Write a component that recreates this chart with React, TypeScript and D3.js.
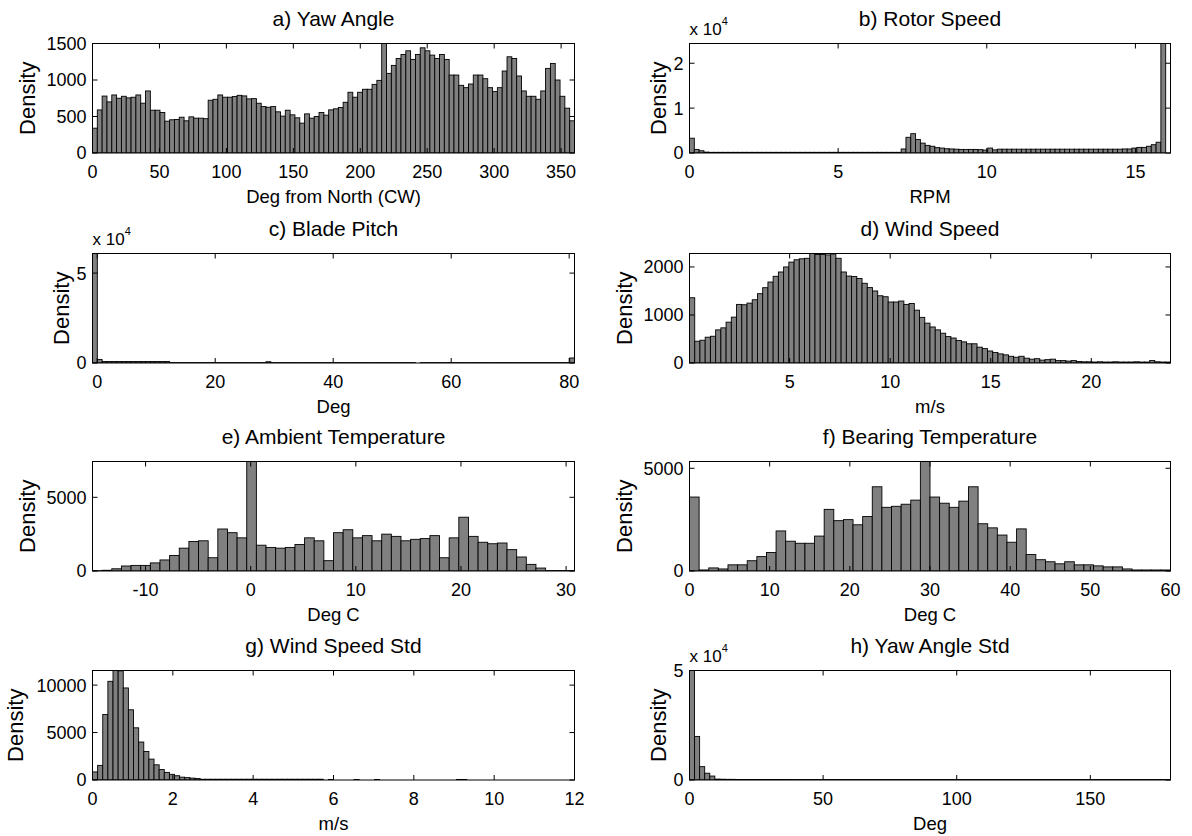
import React from 'react';
import * as d3 from 'd3';

// ---------- DATA (histogram counts) ----------
const panelTitles = ['a) Yaw Angle', 'b) Rotor Speed', 'c) Blade Pitch', 'd) Wind Speed',
  'e) Ambient Temperature', 'f) Bearing Temperature', 'g) Wind Speed Std', 'h) Yaw Angle Std'];
const panelXLabels = ['Deg from North (CW)', 'RPM', 'Deg', 'm/s', 'Deg C', 'Deg C', 'm/s', 'Deg'];

// a) Yaw angle: 100 bins over [0, 360]
const yawCounts = [
  340, 590, 780, 700, 795, 750, 777, 755, 764, 795, 682, 850,
  586, 586, 555, 436, 455, 459, 490, 441, 495, 477, 477, 470,
  723, 736, 795, 764, 764, 773, 790, 782, 741, 745, 682, 636, 627, 636, 564, 505, 586, 523, 482,
  409, 536, 477, 500, 555, 518, 591, 605, 623, 695, 832, 764, 832, 873, 873, 940, 995,
  1650, 1091, 1200, 1295, 1350, 1400, 1282, 1350, 1441, 1400, 1341, 1295, 1350, 1282, 1068, 1068,
  927, 895, 945, 1068, 1068, 1018, 895, 841, 895, 1123, 1318, 1295, 1055, 850, 777, 777, 736, 850,
  1159, 1227, 1000, 777, 614, 441,
];
// b) Rotor speed: 100 bins over [0, 16.18]
const rotorCounts = [
  3300, 800, 500,
  200, 150, 150, 150, 150, 150, 150, 150, 150, 150, 150, 150, 150, 150, 150, 150, 150, 150, 150, 150,
  150, 150, 150, 150, 150, 150, 150, 150, 150, 150, 150, 150, 150, 150, 150, 150, 150, 150, 150, 150, 150,
  900, 3500, 4300, 3000, 2200, 1700, 1500, 1200, 1100, 950, 900, 850, 800, 800, 800, 800, 750, 650, 1100, 700,
  850, 850, 850, 850, 850, 850, 850, 850, 850, 850, 850, 850, 850, 850, 850, 850, 850, 850, 850, 850,
  850, 850, 850, 850, 850, 850, 900, 900,
  1100, 1250, 1250, 1500, 1850, 2400, 26000, 0,
];
// c) Blade pitch: 100 bins over [-0.8, 80.9]
const pitchCounts = [
  65000, 1900,
  800, 800, 800, 800, 800, 800, 800, 800, 800, 800, 800, 800, 800, 800,
  200, 200, 200, 200, 200, 200, 200, 200, 200, 200, 200, 200, 200, 200, 200, 200, 200, 200, 200, 200,
  700, 200, 200, 200, 200, 200, 200, 200, 200, 200, 200, 200, 200, 200, 200, 200, 200, 200, 200, 200,
  200, 200, 200, 200, 200, 200, 200, 200, 200, 200, 200, 0, 200, 200, 200, 200, 200, 200, 200, 200,
  200, 200, 200, 200, 200, 200, 200, 200, 200, 200, 200, 200, 200, 200, 200, 200, 200, 200, 200, 200,
  200, 200, 200, 2800,
];
// d) Wind speed: 92 bins over [0.02, 23.94]
const windCounts = [
  1359, 453, 474, 537, 557, 690, 732, 850, 955, 1220, 1213, 1247, 1317, 1443, 1568,
  1686, 1805, 1895, 2000, 2100, 2150, 2170, 2180, 2280, 2260, 2260, 2250, 2270, 2180,
  1895, 1810, 1800, 1760, 1660, 1570, 1500, 1400, 1380, 1270, 1270, 1290, 1220, 1240, 1100,
  950, 830, 750, 690, 620, 550, 520, 470, 440, 400, 400, 330, 300, 250, 220,
  190, 170, 140, 120, 140, 100, 80, 90, 60, 70, 80, 50, 50, 40, 50, 30,
  25, 25, 20, 25, 20, 20, 25, 20, 20, 20, 25, 20, 20, 50, 25, 20, 20,
];
// e) Ambient temperature: 50 bins over [-15.05, 30.8]
const ambientCounts = [
  20, 50, 150, 340, 380, 380, 550, 750, 1050, 1550, 2000, 2050, 900, 2850, 2600, 2250, 8000,
  1750, 1600, 1550, 1600, 1800, 2250, 2050, 700, 2600, 2800, 2250, 2400, 2050, 2500, 2350,
  2050, 2150, 2200, 2400, 900, 2250, 3650, 2350, 1950, 1850, 1900, 1450, 950, 450, 200, 30, 30, 30,
];
// f) Bearing temperature: 50 bins over [0, 60]
const bearingCounts = [
  3600, 50, 150, 100, 300, 300, 500, 700, 900, 1950, 1450, 1350, 1350, 1700, 3000, 2450, 2500,
  2250, 2650, 4100, 3100, 3150, 3250, 3450, 5600, 3600, 3300, 3100, 3400, 4100, 2300, 2100,
  1750, 1400, 2050, 800, 550, 450, 350, 450, 300, 300, 250, 200, 200, 100, 50, 50, 50, 50,
];
// g) Wind speed std: 100 bins over [0, 12]
const windStdCounts = [
  850, 1540, 6900, 10400, 13500, 11500, 9700, 7400, 5500, 4000, 3000, 2200, 1600, 1100, 800, 600,
  450, 300, 250, 200, 150,
  80, 80, 80, 80, 80, 80, 80, 80, 80, 80, 80, 80, 80, 80, 80, 80, 80, 80, 80, 80, 80, 80, 80, 80,
  0, 60, 0, 0, 0, 0, 60, 0, 0, 0, 50, 0, 0, 0, 0, 0, 0, 0, 0, 0, 0, 0, 0, 0, 0, 0,
  60, 60, 0, 0, 0, 0, 0, 0, 0, 0, 0, 0, 0, 0, 0, 0, 0, 0, 0, 0, 0, 0, 0,
];
// h) Yaw angle std: 100 bins over [0, 180]
const yawStdCounts = [
  52000, 19900, 6100, 3100, 1800,
  400, 350, 300, 300, 250, 250, 250, 250, 250, 250, 250, 250, 250, 250, 250,
  200, 200, 200, 200, 200, 200, 200, 200, 200, 200, 200, 200, 200, 200, 200, 200, 200, 200, 200, 200,
  200, 200, 200, 200, 200, 200, 200, 200, 200, 200, 200, 200, 200, 200, 200, 200, 200, 200, 200, 200,
  200, 200, 200, 200, 200, 200, 200, 200, 200, 200, 200, 200, 200, 200, 200, 200, 200, 200, 200, 200,
  200, 200, 200, 200, 200, 200, 200, 200, 200, 200, 200, 200, 200, 200, 200,
];

const countsList = [yawCounts, rotorCounts, pitchCounts, windCounts, ambientCounts, bearingCounts, windStdCounts, yawStdCounts];
const binRanges: [number, number][] = [[0, 360], [0, 16.18], [-0.8, 80.9], [0.02, 23.94], [-15.05, 30.8], [0, 60], [0, 12], [0, 180]];
const xLimits: [number, number][] = [[0, 360], [0, 16.18], [-0.8, 80.9], [0.02, 23.94], [-15.05, 30.8], [0, 60], [0, 12], [0, 180]];
const yMaxes = [1500, 24400, 60900, 2280, 7430, 5330, 11540, 50000];
const xTickValues = [
  [0, 50, 100, 150, 200, 250, 300, 350],
  [0, 5, 10, 15],
  [0, 20, 40, 60, 80],
  [5, 10, 15, 20],
  [-10, 0, 10, 20, 30],
  [0, 10, 20, 30, 40, 50, 60],
  [0, 2, 4, 6, 8, 10, 12],
  [0, 50, 100, 150],
];
const yTickValues = [
  [0, 500, 1000, 1500],
  [0, 10000, 20000],
  [0, 50000],
  [0, 1000, 2000],
  [0, 5000],
  [0, 5000],
  [0, 5000, 10000],
  [0, 50000],
];
const yExponents = [0, 4, 4, 0, 0, 0, 0, 4];

// ---------- LAYOUT ----------
const W = 1192, H = 836;
const colLefts = [92.5, 689.5];
const colWidths = [482, 481];
const rowTops = [43.5, 253.5, 461.5, 670.5];
const axH = 109.5;
const FONT = '"Liberation Sans", Arial, Helvetica, sans-serif';
const TICK = 5;
const BAR_FILL = '#808080';

function Panel({ i }: { i: number }) {
  const col = i % 2, row = Math.floor(i / 2);
  const left = colLefts[col], width = colWidths[col];
  const top = rowTops[row], height = axH;
  const right = left + width, bottom = top + height;
  const counts = countsList[i];
  const [b0, b1] = binRanges[i];
  const bw = (b1 - b0) / counts.length;
  const x = d3.scaleLinear().domain(xLimits[i]).range([left, right]);
  const y = d3.scaleLinear().domain([0, yMaxes[i]]).range([bottom, top]);
  const exp = yExponents[i];
  const fmtY = (v: number) => (exp ? String(v / Math.pow(10, exp)) : String(v));
  const yLabels = yTickValues[i].map(fmtY);
  const maxLen = d3.max(yLabels, (s) => s.length) || 1;
  const ylabOffset = 11.5 * maxLen + 12;
  const clipId = `clip-${i}`;
  return (
    <g>
      <defs>
        <clipPath id={clipId}>
          <rect x={left} y={top} width={width} height={height} />
        </clipPath>
      </defs>
      <g clipPath={`url(#${clipId})`}>
        {counts.map((c, k) => {
          if (c <= 0) return null;
          const x0 = x(b0 + k * bw), x1 = x(b0 + (k + 1) * bw);
          const yt = y(c);
          return (
            <rect key={k} x={x0} y={yt} width={Math.max(0, x1 - x0)} height={Math.max(0, bottom - yt)}
              fill={BAR_FILL} stroke="#000" strokeWidth={0.9} />
          );
        })}
      </g>
      <rect x={left} y={top} width={width} height={height} fill="none" stroke="#000" strokeWidth={1} />
      {xTickValues[i].map((v) => (
        <g key={'xt' + v}>
          <line x1={x(v)} x2={x(v)} y1={bottom} y2={bottom - TICK} stroke="#000" strokeWidth={1} />
          <line x1={x(v)} x2={x(v)} y1={top} y2={top + TICK} stroke="#000" strokeWidth={1} />
          <text x={x(v)} y={bottom + 24.5} textAnchor="middle" fontSize={18} fontFamily={FONT}>{String(v)}</text>
        </g>
      ))}
      {yTickValues[i].map((v, j) => (
        <g key={'yt' + v}>
          <line x1={left} x2={left + TICK} y1={y(v)} y2={y(v)} stroke="#000" strokeWidth={1} />
          <line x1={right} x2={right - TICK} y1={y(v)} y2={y(v)} stroke="#000" strokeWidth={1} />
          <text x={left - 6} y={y(v)} dy="0.36em" textAnchor="end" fontSize={18} fontFamily={FONT}>{yLabels[j]}</text>
        </g>
      ))}
      <text x={(left + right) / 2} y={top - 18} textAnchor="middle" fontSize={21} fontFamily={FONT}>{panelTitles[i]}</text>
      <text x={(left + right) / 2} y={bottom + 50} textAnchor="middle" fontSize={18.5} fontFamily={FONT}>{panelXLabels[i]}</text>
      <text transform={`translate(${left - ylabOffset},${(top + bottom) / 2}) rotate(-90)`} textAnchor="middle"
        fontSize={22} fontFamily={FONT}>Density</text>
      {exp ? (
        <text x={left} y={top - 8.5} fontSize={17} fontFamily={FONT}>
          x 10<tspan fontSize={11} dy={-10}>{String(exp)}</tspan>
        </text>
      ) : null}
    </g>
  );
}

export default function App() {
  return (
    <svg width={W} height={H} style={{ position: 'absolute', left: 0, top: 0, background: '#fff' }}>
      <rect x={0} y={0} width={W} height={H} fill="#fff" />
      {countsList.map((_, i) => (
        <Panel key={i} i={i} />
      ))}
    </svg>
  );
}
